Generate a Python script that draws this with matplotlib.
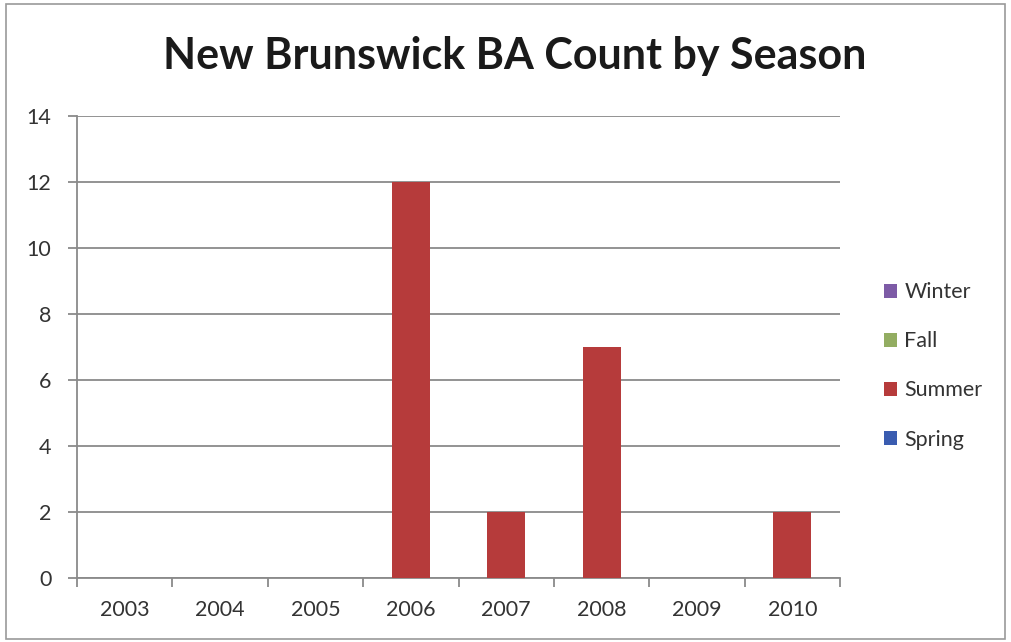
import matplotlib.pyplot as plt
import numpy as np
from matplotlib.patches import Rectangle

years = ['2003', '2004', '2005', '2006', '2007', '2008', '2009', '2010']
spring = [0, 0, 0, 0, 0, 0, 0, 0]
summer = [0, 0, 0, 12, 2, 7, 0, 2]
fall = [0, 0, 0, 0, 0, 0, 0, 0]
winter = [0, 0, 0, 0, 0, 0, 0, 0]

plt.rcParams['font.family'] = ['Lato', 'DejaVu Sans']

fig = plt.figure(figsize=(10.11, 6.42), dpi=100)
ax = fig.add_axes([0.0762, 0.0997, 0.7547, 0.7196])

x = np.arange(len(years))
w = 0.4
bottom = np.zeros(len(years))
series = [('Spring', spring, '#3a5cb0'), ('Summer', summer, '#b63b3b'),
          ('Fall', fall, '#93ad62'), ('Winter', winter, '#7d5ba6')]
handles = {}
for name, vals, col in series:
    vals = np.array(vals, dtype=float)
    handles[name] = ax.bar(x, vals, w, bottom=bottom, color=col, zorder=3)
    bottom += vals

ax.set_xlim(-0.5, len(years) - 0.5)
ax.set_ylim(0, 14)
ax.set_yticks(range(0, 15, 2))
ax.yaxis.grid(True, color='#8a8a8a', lw=1.3)
ax.set_axisbelow(True)
for s in ['top', 'right']:
    ax.spines[s].set_visible(False)
for s in ['left', 'bottom']:
    ax.spines[s].set_color('#8a8a8a')
    ax.spines[s].set_linewidth(1.3)

# category labels centered, tick marks between categories
ax.set_xticks(np.arange(len(years) + 1) - 0.5)
ax.set_xticklabels([])
ax.set_xticks(x, minor=True)
ax.set_xticklabels(years, minor=True)
ax.tick_params(axis='x', which='major', length=6.5, width=1.3, color='#8a8a8a')
ax.tick_params(axis='x', which='minor', length=0, pad=16, labelsize=15.5, labelcolor='#333333')
ax.tick_params(axis='y', length=6.5, width=1.3, color='#8a8a8a', pad=12, labelsize=15.5, labelcolor='#333333')

fig.text(0.509, 0.912, 'New Brunswick BA Count by Season', ha='center', va='center',
         fontsize=31, fontweight='bold', color='#1a1a1a')

order = ['Winter', 'Fall', 'Summer', 'Spring']
leg = fig.legend([handles[k] for k in order], order, loc='center left',
                 bbox_to_anchor=(0.855, 0.43), frameon=False, fontsize=15.5,
                 handlelength=0.6, handleheight=0.6, handletextpad=0.35,
                 labelspacing=1.35, labelcolor='#333333')

fig.patches.append(Rectangle((0.006, 0.004), 0.988, 0.99, transform=fig.transFigure,
                             fill=False, edgecolor='#9a9a9a', lw=1.2))

fig.savefig('out.png', dpi=100)
